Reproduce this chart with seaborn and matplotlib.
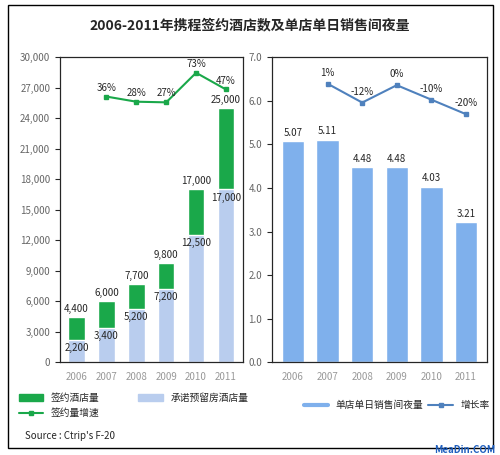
import matplotlib
matplotlib.use('Agg')
import matplotlib.pyplot as plt
import seaborn as sns
import pandas as pd
from matplotlib.lines import Line2D
from matplotlib.patches import Patch, Rectangle

years = ['2006', '2007', '2008', '2009', '2010', '2011']
signed_total = [4400, 6000, 7700, 9800, 17000, 25000]
reserved = [2200, 3400, 5200, 7200, 12500, 17000]
signed_growth = [None, 36, 28, 27, 73, 47]
nights = [5.07, 5.11, 4.48, 4.48, 4.03, 3.21]
nights_growth = [None, 1, -12, 0, -10, -20]

sns.set_style('white')
plt.rcParams['font.family'] = ['Noto Sans CJK SC', 'DejaVu Sans']

green = '#1aa84a'
lblue = '#b9cdee'
blue = '#7fb0ec'
lcol = '#4f81bd'

df = pd.DataFrame({'year': years, 'total': signed_total, 'reserved': reserved})

fig = plt.figure(figsize=(5, 4.55), dpi=100)
fig.patches.append(Rectangle((0.015, 0.015), 0.97, 0.975, transform=fig.transFigure,
                             fill=False, edgecolor='black', lw=1))
fig.text(0.5, 0.935, '2006-2011年携程签约酒店数及单店单日销售间夜量', ha='center',
         fontsize=10, fontweight='bold')

# left chart
ax = fig.add_axes([0.12, 0.204, 0.365, 0.67])
sns.barplot(data=df, x='year', y='total', color=green, width=0.55, ax=ax, saturation=1)
sns.barplot(data=df, x='year', y='reserved', color=lblue, width=0.55, ax=ax, saturation=1)
ax.set_ylim(0, 30000)
ax.set_yticks(range(0, 30001, 3000))
ax.set_yticklabels([f'{v:,}' for v in range(0, 30001, 3000)], fontsize=7, color='#666666')
ax.tick_params(axis='x', labelsize=7, colors='#999999')
ax.set_xlabel('')
ax.set_ylabel('')
for i, (t, r) in enumerate(zip(signed_total, reserved)):
    ax.text(i, t + 300, f'{t:,}', ha='center', va='bottom', fontsize=7)
    ax.text(i, r - 300, f'{r:,}', ha='center', va='top', fontsize=7)
for s in ax.spines.values():
    s.set_color('black')
    s.set_linewidth(0.8)
ax2 = ax.twinx()
ax2.plot(range(1, 6), signed_growth[1:], color=green, marker='s', markersize=3.5, lw=1.5)
ax2.set_ylim(-377, 97)
ax2.set_yticks([])
for i, g in enumerate(signed_growth):
    if g is not None:
        ax2.text(i, g + 6, f'{g}%', ha='center', va='bottom', fontsize=7)

# right chart
df2 = pd.DataFrame({'year': years, 'nights': nights})
bx = fig.add_axes([0.544, 0.204, 0.43, 0.67])
sns.barplot(data=df2, x='year', y='nights', color=blue, width=0.65, ax=bx, saturation=1)
bx.set_ylim(0, 7)
bx.set_yticks([i for i in range(8)])
bx.set_yticklabels([f'{i:.1f}' for i in range(8)], fontsize=7, color='#666666')
bx.tick_params(axis='x', labelsize=7, colors='#999999')
bx.set_xlabel('')
bx.set_ylabel('')
for i, v in enumerate(nights):
    bx.text(i, v + 0.08, f'{v:.2f}', ha='center', va='bottom', fontsize=7)
for s in bx.spines.values():
    s.set_color('black')
    s.set_linewidth(0.8)
bx2 = bx.twinx()
bx2.plot(range(1, 6), nights_growth[1:], color=lcol, marker='s', markersize=3.5, lw=1.5)
bx2.set_ylim(-191, 19.2)
bx2.set_yticks([])
for i, g in enumerate(nights_growth):
    if g is not None:
        bx2.text(i, g + 4, f'{g}%', ha='center', va='bottom', fontsize=7)

# legends
h1 = [Patch(color=green, label='签约酒店量'),
      Line2D([], [], color=green, marker='s', markersize=3.5, label='签约量增速'),
      Patch(color=lblue, label='承诺预留房酒店量')]
fig.legend(handles=h1, loc='upper left', bbox_to_anchor=(0.02, 0.155), ncol=2,
           frameon=False, fontsize=7, handlelength=2.5, columnspacing=4)
h2 = [Line2D([], [], color=blue, lw=3, label='单店单日销售间夜量'),
      Line2D([], [], color=lcol, marker='s', markersize=3.5, label='增长率')]
fig.legend(handles=h2, loc='upper left', bbox_to_anchor=(0.59, 0.14), ncol=2,
           frameon=False, fontsize=7, handlelength=2.5, columnspacing=0.5)
fig.text(0.05, 0.035, "Source : Ctrip's F-20", fontsize=7)
fig.text(0.99, 0.005, 'MeaDin.COM', ha='right', fontsize=7, color='#1f5fbf', fontweight='bold')

fig.savefig('out.png', dpi=100)
